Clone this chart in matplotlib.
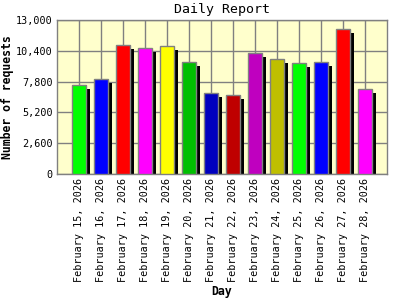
import matplotlib
matplotlib.use("Agg")
import matplotlib.pyplot as plt
import numpy as np

days = ["February 15, 2026", "February 16, 2026", "February 17, 2026", "February 18, 2026",
        "February 19, 2026", "February 20, 2026", "February 21, 2026", "February 22, 2026",
        "February 23, 2026", "February 24, 2026", "February 25, 2026", "February 26, 2026",
        "February 27, 2026", "February 28, 2026"]
requests = [7490, 8050, 10860, 10610, 10780, 9430, 6870, 6640, 10180, 9740, 9340, 9430, 12270, 7200]
colors = ["#00FF00", "#0000FF", "#FF0000", "#FF00FF", "#FFFF00", "#00BF00", "#0000BF", "#BF0000",
          "#BF00BF", "#BFBF00", "#00FF00", "#0000FF", "#FF0000", "#FF00FF"]
yticks = [0, 2600, 5200, 7800, 10400, 13000]
ytick_labels = ["0", "2,600", "5,200", "7,800", "10,400", "13,000"]

mono = "DejaVu Sans Mono"
fig = plt.figure(figsize=(4, 3), dpi=100)
ax = fig.add_axes([0.1425, 0.42, 0.825, 0.5133])
ax.set_facecolor("#FFFFCC")

x = np.arange(1, len(days) + 1)
w = 0.65
# shadows
ax.bar(x + 0.19, np.array(requests) - 330, width=w, color="black", zorder=2, linewidth=0)
ax.bar(x, requests, width=w, color=colors, edgecolor="#808080", linewidth=1, zorder=3)

ax.set_xlim(0, 15)
ax.set_ylim(0, 13000)
ax.set_xticks(np.arange(1, 15))
ax.set_xticklabels(days, rotation=90, fontfamily=mono, fontsize=7.3)
ax.set_yticks(yticks)
ax.set_yticklabels(ytick_labels, fontfamily=mono, fontsize=7.3)
ax.tick_params(length=0, pad=3)
ax.grid(True, color="#808080", linewidth=1, zorder=1)
ax.set_axisbelow(True)
for s in ax.spines.values():
    s.set_color("#808080")
    s.set_linewidth(1)

fig.text(222 / 400, 1 - 9 / 300, "Daily Report", fontfamily=mono, fontsize=9.5,
         ha="center", va="center")
fig.text(8 / 400, 1 - 97 / 300, "Number of requests", fontfamily=mono, fontweight="bold",
         fontsize=8.3, rotation=90, ha="center", va="center")
fig.text(222 / 400, 1 - 291 / 300, "Day", fontfamily=mono, fontweight="bold", fontsize=8.3,
         ha="center", va="center")

fig.savefig("out.png", dpi=100)
